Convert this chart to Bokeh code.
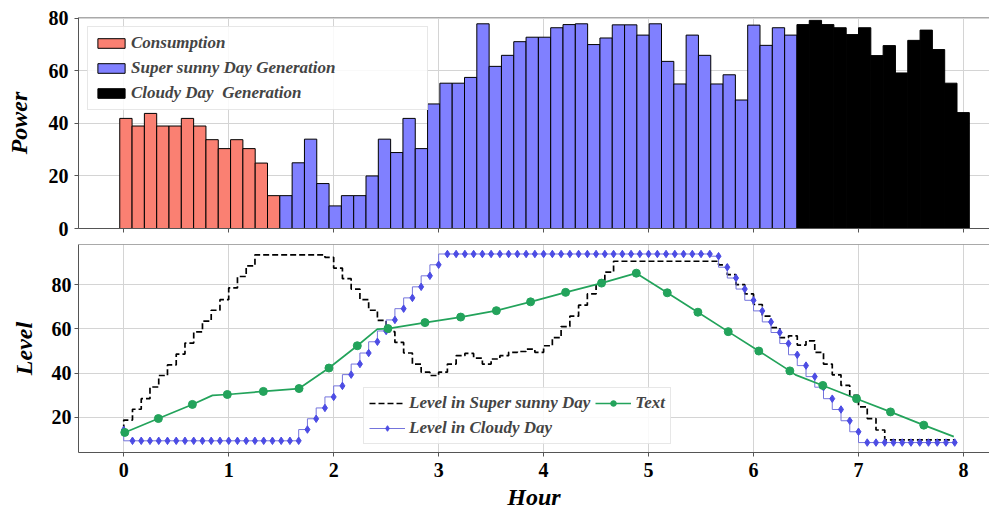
import numpy as np
from bokeh.plotting import figure
from bokeh.layouts import column
from bokeh.models import Range1d, FixedTicker, Legend, LegendItem, Span
from bokeh.embed import file_html
from bokeh.resources import INLINE

# ---------------- data ----------------
consumption = [41.9, 39.0, 43.8, 39.0, 39.0, 41.9, 39.0, 33.8, 30.4, 33.8, 30.4, 24.9, 12.5]
sunny_gen = [12.5, 25.0, 34.0, 17.1, 8.6, 12.5, 12.5, 20.0, 34.0, 28.9, 41.9, 30.4,
             47.4, 55.3, 55.3, 57.5, 77.9, 61.7, 65.9, 71.1, 72.8, 72.8, 76.4, 77.6,
             77.9, 70.0, 72.5, 77.5, 77.5, 73.6, 77.9, 63.6, 55.0, 73.6, 65.9, 55.0,
             58.5, 48.9, 77.4, 69.7, 76.4, 73.6]
cloudy_gen = [77.6, 79.2, 77.6, 76.4, 73.8, 76.4, 65.8, 69.6, 59.2, 71.6, 75.5, 68.1, 55.3, 44.1]

hour_ticks = [0, 1, 2, 3, 4, 5, 6, 7, 8]
power_ticks = [0, 20, 40, 60, 80]
level_ticks = [20, 40, 60, 80]

level_minutes = np.arange(0, 480, 5)  # 5-minute time grid of the level series

sunny_level = [14.0,
               18.7, 23.6, 28.4, 33.7, 38.9, 43.7, 48.6, 53.6, 58.7, 63.6, 68.5, 73.3, 78.6, 83.8, 88.6, 93.6,
               93.6, 93.6, 93.6, 93.6, 93.6, 93.6, 93.6,
               92.5,
               87.6, 82.8, 78.1, 73.3, 68.5, 63.9, 58.8, 53.9, 49.1, 44.1, 40.4, 38.9, 40.4, 44.1, 47.9, 48.9,
               46.8, 44.1, 46.4, 47.9, 49.4, 49.8, 50.9, 49.4, 52.4, 56.1, 61.1, 65.8, 70.8, 75.9, 80.8, 85.8,
               90.7, 90.7, 90.7, 90.7, 90.7, 90.7, 90.7, 90.7, 90.7, 90.7, 90.7, 90.7,
               89.1, 84.6, 80.1, 75.9, 71.1, 65.8, 60.6, 56.1, 56.9, 52.7, 54.6, 49.4, 44.1, 39.2, 34.4, 29.9,
               24.7, 19.4, 14.2,
               9.7, 9.7, 9.7, 9.7, 9.7, 9.7, 9.7, 9.7]

cloudy_level = [14.2,
                9.3, 9.3, 9.3, 9.3, 9.3, 9.3, 9.3, 9.3, 9.3, 9.3, 9.3, 9.3, 9.3, 9.3, 9.3, 9.3, 9.3, 9.3, 9.3, 9.3,
                14.4, 19.3, 24.2, 29.2, 34.2, 39.3, 44.1, 49.1, 54.2, 59.1, 64.1, 69.2, 74.1, 79.1, 84.1, 89.1, 94.0,
                94.0, 94.0, 94.0, 94.0, 94.0, 94.0, 94.0, 94.0, 94.0, 94.0, 94.0, 94.0, 94.0, 94.0, 94.0,
                94.0, 94.0, 94.0, 94.0, 94.0, 94.0, 94.0, 94.0, 94.0, 94.0, 94.0, 94.0, 94.0, 94.0, 94.0,
                93.0,
                88.0, 83.1, 78.1, 73.0, 68.2, 63.2, 58.4, 53.4, 48.3, 43.4, 38.4, 33.6, 28.4, 23.5, 18.4, 13.4,
                8.5, 8.5, 8.5, 8.5, 8.5, 8.5, 8.5, 8.5, 8.5, 8.5, 8.5]

text_hours = [0.01, 0.33, 0.654, 0.845, 0.987, 1.33, 1.67, 1.955, 2.225, 2.416, 2.517, 2.87, 3.21,
              3.55, 3.876, 4.21, 4.552, 4.883, 5.178, 5.47, 5.759, 6.05, 6.346, 6.4, 6.66, 6.981,
              7.305, 7.622, 7.908]
text_level = [13.1, 19.4, 25.8, 29.9, 30.3, 31.7, 33.0, 42.3, 52.4, 59.9, 60.2, 62.9, 65.4,
              68.3, 72.3, 76.6, 80.8, 85.3, 76.4, 67.6, 58.8, 50.0, 41.0, 39.2, 34.4, 28.4,
              22.4, 16.4, 11.2]
text_marked = [True, True, True, False, True, True, True, True, True, False, True, True, True,
               True, True, True, True, True, True, True, True, True, True, False, True, True,
               True, True, False]

# ---------------- style / layout ----------------
SERIF = "Liberation Serif"
SPINE = "#555555"
GRID = "#d4d4d4"
C_CONS = "#fa8072"
C_SUN = "#8080ff"
C_CLOUD = "#000000"
C_BLUE_LINE = "#7474dc"
C_BLUE_MK = "#4c4ce4"
C_GREEN = "#23a35b"
BAR_X0 = -0.038
BAR_W = 0.1173

x_range = Range1d(-0.431, 8.248)


def style(p, yticks):
    p.outline_line_color = None
    p.xgrid.grid_line_color = GRID
    p.ygrid.grid_line_color = GRID
    p.xaxis.ticker = FixedTicker(ticks=hour_ticks)
    p.yaxis.ticker = FixedTicker(ticks=yticks)
    for ax in (p.xaxis[0], p.yaxis[0]):
        ax.axis_line_color = SPINE
        ax.major_tick_line_color = SPINE
        ax.major_tick_out = 4
        ax.major_tick_in = 0
        ax.minor_tick_line_color = None
        ax.major_label_text_font = SERIF
        ax.major_label_text_font_style = "bold"
        ax.major_label_text_font_size = "20px"
        ax.major_label_text_color = "black"
        ax.axis_label_text_font = SERIF
        ax.axis_label_text_font_style = "bold italic"
        ax.axis_label_text_font_size = "24px"
        ax.axis_label_text_color = "black"
    p.add_layout(Span(location=p.y_range.end, dimension="width",
                      line_color=SPINE, line_width=1))


# ---------------- top: power bars ----------------
p1 = figure(width=989, height=243, x_range=x_range, y_range=Range1d(0, 80.3),
            output_backend="svg", toolbar_location=None,
            min_border_left=78, min_border_right=0, min_border_top=17, min_border_bottom=15)
style(p1, power_ticks)
# the upper panel shows hour tick marks only (no tick labels)
p1.xaxis.major_label_text_font_size = "8px"
p1.xaxis.major_label_text_color = None
p1.xaxis.major_label_standoff = 0
p1.yaxis.axis_label = "Power"
p1.yaxis.major_label_standoff = 6
p1.yaxis.axis_label_standoff = 14

n_c, n_s, n_k = len(consumption), len(sunny_gen), len(cloudy_gen)
idx = np.arange(n_c + n_s + n_k)
centers = BAR_X0 + (idx + 0.5) * BAR_W
r_c = p1.vbar(x=centers[:n_c], top=consumption, bottom=0, width=BAR_W,
              fill_color=C_CONS, line_color="black", line_width=1)
r_s = p1.vbar(x=centers[n_c:n_c + n_s], top=sunny_gen, bottom=0, width=BAR_W,
              fill_color=C_SUN, line_color="black", line_width=1)
r_k = p1.vbar(x=centers[n_c + n_s:], top=cloudy_gen, bottom=0, width=BAR_W,
              fill_color=C_CLOUD, line_color="black", line_width=1)

leg1 = Legend(items=[LegendItem(label="Consumption", renderers=[r_c]),
                     LegendItem(label="Super sunny Day Generation", renderers=[r_s]),
                     LegendItem(label="Cloudy Day  Generation", renderers=[r_k])],
              location="top_left", margin=9, padding=6, spacing=5,
              glyph_width=34, glyph_height=12, label_height=20, label_width=290,
              label_standoff=3,
              label_text_font=SERIF, label_text_font_style="bold italic",
              label_text_font_size="17px",
              background_fill_alpha=0.85, border_line_color="#cfcfcf")
p1.add_layout(leg1)

# ---------------- bottom: levels ----------------
p2 = figure(width=989, height=269, x_range=x_range, y_range=Range1d(4, 98.3),
            output_backend="svg", toolbar_location=None,
            min_border_left=78, min_border_right=0, min_border_top=1, min_border_bottom=58)
style(p2, level_ticks)
p2.xaxis.axis_label = "Hour"
p2.xaxis.major_label_standoff = 6
p2.xaxis.axis_label_standoff = 4
p2.yaxis.axis_label = "Level"
p2.yaxis.major_label_standoff = 3
p2.yaxis.axis_label_standoff = 12

t_hours = level_minutes / 60.0
r_sun = p2.step(x=t_hours, y=sunny_level, mode="before", line_color="black",
                line_width=1.7, line_dash="6 3")
r_cl = p2.step(x=t_hours, y=cloudy_level, mode="before", line_color=C_BLUE_LINE, line_width=1)
r_clm = p2.scatter(x=t_hours, y=cloudy_level, marker="diamond", size=7.5,
                   fill_color=C_BLUE_MK, line_color=C_BLUE_MK)
r_tx = p2.line(x=text_hours, y=text_level, line_color=C_GREEN, line_width=1.7)
mk_x = [h for h, m in zip(text_hours, text_marked) if m]
mk_y = [v for v, m in zip(text_level, text_marked) if m]
r_txm = p2.scatter(x=mk_x, y=mk_y, marker="circle", size=8,
                   fill_color=C_GREEN, line_color=C_GREEN)

leg2 = Legend(items=[LegendItem(label="Level in Super sunny Day", renderers=[r_sun]),
                     LegendItem(label="Level in Cloudy Day", renderers=[r_cl, r_clm]),
                     LegendItem(label="Text", renderers=[r_tx, r_txm])],
              location=(285, 8), ncols=2, orientation="vertical",
              padding=5, spacing=5, glyph_width=36, glyph_height=14,
              label_height=20, label_standoff=4,
              label_text_font=SERIF, label_text_font_style="bold italic",
              label_text_font_size="17px",
              background_fill_alpha=0.85, border_line_color="#cfcfcf")
p2.add_layout(leg2)

page = column(p1, p2)
open("out.html", "w").write(file_html(page, INLINE))
